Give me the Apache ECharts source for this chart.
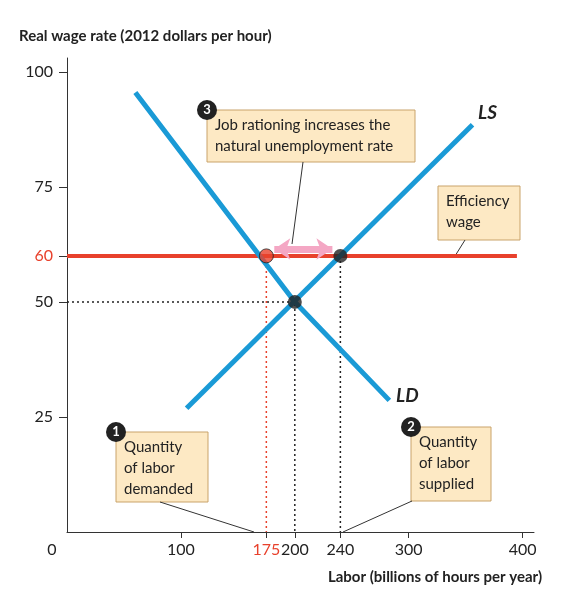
<!DOCTYPE html><html><head><meta charset="utf-8">
<script src="https://cdn.jsdelivr.net/npm/echarts@6/dist/echarts.min.js"></script>
<style>html,body{margin:0;background:#fff}#c{width:565px;height:599px}</style></head><body><div id="c"></div>
<script>
const xTicks=[0,100,175,200,240,300,400];
const yTicks=[25,50,60,75,100];
const ldData=[[60,95.5],[200,50],[283,28.6]];
const lsData=[[105,26.9],[356,88.5]];
const effWage=[[0,60],[395,60]];
const redPt=[175,60], blackPts=[[240,60],[200,50]];
const F='Lato, "Open Sans", sans-serif';
const chart=echarts.init(document.getElementById('c'));
const dotted=(pts,c)=>({type:'line',data:pts,symbol:'none',lineStyle:{color:c,width:1.5,type:[2,3]},z:1,silent:true});
const box=(x,y,w,h,lines)=>({type:'group',children:[
 {type:'rect',shape:{x:x,y:y,width:w,height:h},style:{fill:'#fde9c4',stroke:'#c9a36a',lineWidth:1}},
 {type:'text',x:x+8,y:y+5,style:{text:lines,font:'15px '+F,fill:'#222',lineHeight:21}}]});
const num=(x,y,t)=>({type:'group',children:[{type:'circle',shape:{cx:x,cy:y,r:10},style:{fill:'#222'}},
 {type:'text',x:x,y:y,style:{text:t,font:'bold 13px '+F,fill:'#fff',align:'center',verticalAlign:'middle'}}]});
const ln=(x1,y1,x2,y2)=>({type:'line',shape:{x1,y1,x2,y2},style:{stroke:'#333',lineWidth:1}});
chart.setOption({
 animation:false,
 grid:{left:67,right:31,top:58,bottom:67},
 xAxis:{type:'value',min:0,max:410,
  axisLine:{lineStyle:{color:'#333'}},splitLine:{show:false},
  axisTick:{customValues:xTicks.slice(1),length:6,lineStyle:{color:'#333'}},
  axisLabel:{customValues:xTicks,margin:10,fontSize:16,color:'#222',fontFamily:F,
   formatter:v=>v===0?'{z|0}':(v===175?'{r|175}':String(v)),
   rich:{r:{color:'#e8412c',fontSize:16,fontFamily:F},z:{padding:[0,30,0,0],fontSize:16,fontFamily:F}}},
  name:'Labor (billions of hours per year)',nameLocation:'end',nameGap:0,
  nameTextStyle:{fontWeight:'bold',fontSize:15,fontFamily:F,color:'#222',align:'right',verticalAlign:'top',padding:[38,-8,0,0]}},
 yAxis:{type:'value',min:0,max:103,
  axisLine:{show:true,lineStyle:{color:'#333'}},splitLine:{show:false},
  axisTick:{show:true,customValues:yTicks,length:8,lineStyle:{color:'#333'}},
  axisLabel:{customValues:yTicks,margin:14,fontSize:16,fontFamily:F,color:'#222',
   formatter:v=>v===60?'{r|60}':String(v),rich:{r:{color:'#e8412c',fontSize:16,fontFamily:F}}},
  name:'Real wage rate (2012 dollars per hour)',nameLocation:'end',nameGap:14,
  nameTextStyle:{fontWeight:'bold',fontSize:15,fontFamily:F,color:'#222',align:'left',padding:[0,0,0,-48]}},
 graphic:[
  box(207,110,208,52,'Job rationing increases the\nnatural unemployment rate'),num(207,110,'3'),ln(303,162,292,244),
  box(438,186,82,54,'Efficiency\nwage'),ln(465,240,455,256),
  box(116,432,92,70,'Quantity\nof labor\ndemanded'),num(116,432,'1'),ln(160,502,254,532),
  box(411,427,80,74,'Quantity\nof labor\nsupplied'),num(411,427,'2'),ln(412,501,343,532),
  {type:'text',x:478,y:103,style:{text:'LS',font:'italic bold 19px '+F,fill:'#222'}},
  {type:'text',x:396,y:386,style:{text:'LD',font:'italic bold 19px '+F,fill:'#222'}}
 ],
 series:[
  dotted([[0,50],[200,50],[200,0]],'#222'),
  dotted([[175,60],[175,0]],'#e8412c'),
  dotted([[240,60],[240,0]],'#222'),
  {type:'line',data:effWage,symbol:'none',lineStyle:{color:'#e8412c',width:4},z:2},
  {type:'line',data:ldData,symbol:'none',lineStyle:{color:'#1a9ad6',width:5},z:3},
  {type:'line',data:lsData,symbol:'none',lineStyle:{color:'#1a9ad6',width:5},z:3},
  {type:'lines',coordinateSystem:'cartesian2d',z:4,
   symbol:['arrow','arrow'],symbolSize:16,
   lineStyle:{color:'#f4a7c4',width:7,opacity:1},
   data:[{coords:[[182,61.5],[233,61.5]]}]},
  {type:'scatter',data:[redPt],symbolSize:14,itemStyle:{color:'#e8412c',borderColor:'#222',borderWidth:1},z:5},
  {type:'scatter',data:blackPts,symbolSize:14,itemStyle:{color:'#222'},z:5}
 ]
});
</script></body></html>
